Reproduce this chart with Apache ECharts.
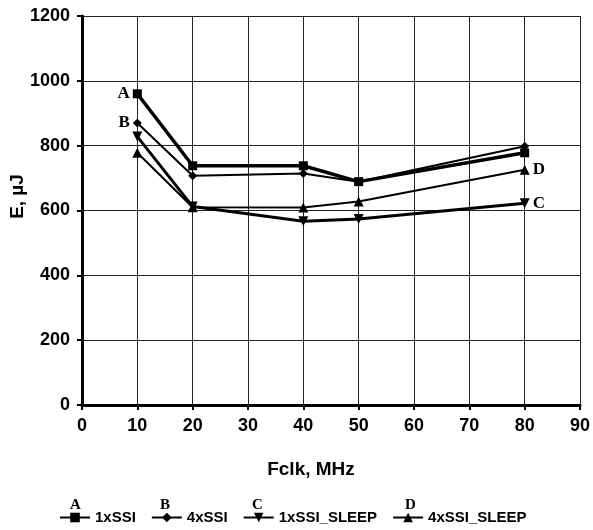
<!DOCTYPE html>
<html>
<head>
<meta charset="utf-8">
<script src="https://cdn.jsdelivr.net/npm/echarts@6/dist/echarts.min.js"></script>
<style>
  html, body { margin: 0; padding: 0; background: #fff; }
  #main { width: 593px; height: 530px; }
</style>
</head>
<body>
<div id="main"></div>
<script>
  // Fclk, MHz
  const freq = [10, 20, 40, 50, 80];
  // E, uJ
  const ssi1 = [960, 738, 738, 689, 778];
  const ssi4 = [870, 707, 714, 689, 798];
  const ssi1Sleep = [828, 612, 567, 574, 622];
  const ssi4Sleep = [778, 610, 609, 628, 726];
  const seriesNames = ['1xSSI', '4xSSI', '1xSSI_SLEEP', '4xSSI_SLEEP'];
  const letters = ['A', 'B', 'C', 'D'];

  const letterFont = {
    fontFamily: 'Liberation Serif',
    fontWeight: 'bold',
    fontSize: 17,
    color: '#000',
  };
  const sansBold = { fontFamily: 'Liberation Sans', fontWeight: 'bold', color: '#000' };

  // build [x, y] pairs, put a letter next to one point
  function makeData(values, labelIdx, letter, pos) {
    return values.map((v, i) => {
      const item = { value: [freq[i], v] };
      if (i === labelIdx) {
        item.label = Object.assign({ show: true, position: pos, formatter: letter, distance: 3 }, letterFont);
      }
      return item;
    });
  }

  const myChart = echarts.init(document.getElementById('main'));
  const option = {
    backgroundColor: '#fff',
    animation: false,
    grid: { left: 82, right: 13, top: 16, bottom: 125, outerBoundsMode: 'none' },
    legend: {
      left: 59,
      top: 510,
      padding: 0,
      itemWidth: 30,
      itemHeight: 12,
      itemGap: 15,
      textStyle: Object.assign({ fontSize: 15 }, sansBold),
      data: seriesNames,
    },
    xAxis: {
      type: 'value',
      min: 0,
      max: 90,
      interval: 10,
      name: 'Fclk, MHz',
      nameLocation: 'middle',
      nameGap: 55,
      nameMoveOverlap: false,
      nameTextStyle: Object.assign({ fontSize: 19, padding: [0, 40, 0, 0] }, sansBold),
      axisLine: { lineStyle: { color: '#000', width: 3 } },
      axisTick: { length: 5, lineStyle: { color: '#000', width: 2 } },
      axisLabel: Object.assign({ fontSize: 18, margin: 12 }, sansBold),
      splitLine: { show: true, lineStyle: { color: '#222', width: 1 } },
    },
    yAxis: {
      type: 'value',
      min: 0,
      max: 1200,
      interval: 200,
      name: 'E, µJ',
      nameLocation: 'middle',
      nameGap: 55,
      nameMoveOverlap: false,
      nameTextStyle: Object.assign({ fontSize: 19, padding: [0, 0, 0, 28] }, sansBold),
      axisLine: { show: true, lineStyle: { color: '#000', width: 3 } },
      axisTick: { show: true, length: 5, lineStyle: { color: '#000', width: 2 } },
      axisLabel: Object.assign({ fontSize: 18, margin: 12, formatter: v => String(v) }, sansBold),
      splitLine: { show: true, lineStyle: { color: '#222', width: 1 } },
    },
    series: [
      {
        name: seriesNames[0],
        type: 'line',
        symbol: 'rect',
        symbolSize: 9,
        lineStyle: { color: '#000', width: 3.5 },
        itemStyle: { color: '#000' },
        data: makeData(ssi1, 0, letters[0], 'left'),
      },
      {
        name: seriesNames[1],
        type: 'line',
        symbol: 'diamond',
        symbolSize: 9,
        lineStyle: { color: '#000', width: 2 },
        itemStyle: { color: '#000' },
        data: makeData(ssi4, 0, letters[1], 'left'),
      },
      {
        name: seriesNames[2],
        type: 'line',
        symbol: 'triangle',
        symbolRotate: 180,
        symbolSize: 10,
        lineStyle: { color: '#000', width: 3 },
        itemStyle: { color: '#000' },
        data: makeData(ssi1Sleep, 4, letters[2], 'right'),
      },
      {
        name: seriesNames[3],
        type: 'line',
        symbol: 'triangle',
        symbolSize: 10,
        lineStyle: { color: '#000', width: 2 },
        itemStyle: { color: '#000' },
        data: makeData(ssi4Sleep, 4, letters[3], 'right'),
      },
    ],
    graphic: [
      { type: 'text', left: 70, top: 498, style: Object.assign({ text: letters[0] }, letterFont, { fill: '#000', fontSize: 15 }) },
      { type: 'text', left: 160, top: 498, style: Object.assign({ text: letters[1] }, letterFont, { fill: '#000', fontSize: 15 }) },
      { type: 'text', left: 252, top: 498, style: Object.assign({ text: letters[2] }, letterFont, { fill: '#000', fontSize: 15 }) },
      { type: 'text', left: 405, top: 498, style: Object.assign({ text: letters[3] }, letterFont, { fill: '#000', fontSize: 15 }) },
    ],
  };
  myChart.setOption(option);
</script>
</body>
</html>
